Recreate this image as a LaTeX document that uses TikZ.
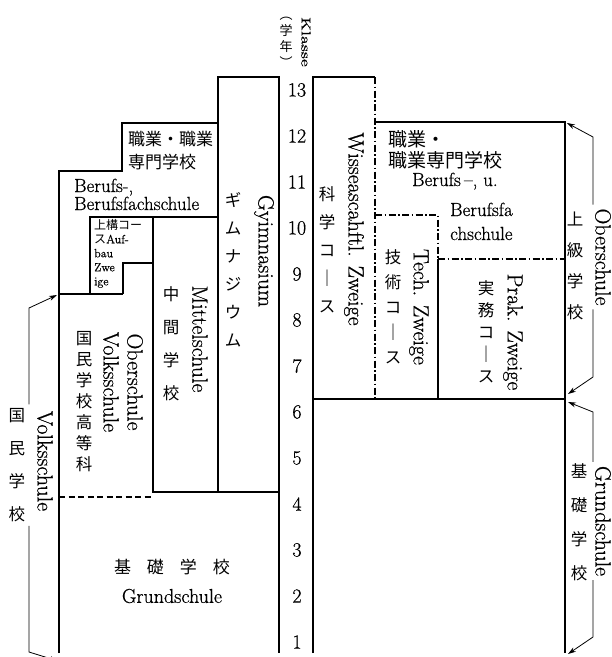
\documentclass[tikz,border=0pt]{standalone}
\usepackage{fontspec}
\usepackage{graphicx}
\setmainfont{Latin Modern Roman}[FakeBold=0.6]
\newfontfamily\cjk{Noto Sans CJK JP}
\usetikzlibrary{arrows.meta}
\tikzset{
 wall/.style={line width=1.5pt},
 dashdot/.style={line width=1.2pt, dash pattern=on 7pt off 2.5pt on 1.5pt off 2.5pt},
 dashline/.style={line width=1.2pt, dash pattern=on 6pt off 3.5pt},
 brace/.style={line width=0.8pt},
 arr/.style={brace, -{Stealth[length=8pt,width=5pt]}},
 lat/.style={inner sep=0pt, font=\fontsize{19}{21}\selectfont},
 rot/.style={inner sep=0pt, outer sep=4pt, rotate=-90, font=\fontsize{22}{24}\selectfont},
 jv/.style={inner sep=0pt, outer sep=4pt, align=center, font=\cjk\fontsize{16.5}{#1}\selectfont},
 jh/.style={inner sep=0pt, font=\cjk\fontsize{17}{20}\selectfont},
 jhb/.style={inner sep=0pt, font=\cjk\fontsize{19}{22}\selectfont},
 num/.style={inner sep=0pt, font=\fontsize{20}{20}\selectfont},
}
\begin{document}
\begin{tikzpicture}[x=1pt,y=-1pt]
\fill[white] (0,0) rectangle (612,657);
\useasboundingbox (0,0) rectangle (612,657);

% ---------- left block outlines ----------
\draw[wall] (59,653) -- (59,171) -- (122,171) -- (122,123) -- (218,123);
\draw[wall] (218,492) -- (218,77) -- (279,77) -- (279,653);
\draw[wall] (59,294) -- (123,294);
\draw[wall] (90,294) -- (90,217) -- (218,217);
\draw[wall] (123,294) -- (123,263) -- (153,263);
\draw[wall] (153,217) -- (153,492) -- (279,492);
\draw[dashline] (59,497) -- (151,497);

% ---------- right block outlines ----------
\draw[wall] (313,653) -- (313,77) -- (375,77);
\draw[dashdot] (375,77) -- (375,399);
\draw[wall] (375,122) -- (565,122) -- (565,653);
\draw[dashdot] (375,215) -- (438,215) -- (438,259);
\draw[wall] (438,259) -- (438,399);
\draw[dashdot] (438,259) -- (565,259);
\draw[wall] (313,399) -- (565,399);

% ---------- left texts ----------
\node[jh, anchor=west] (lt1) at (128,139) {職業・職業};
\node[jh, anchor=west] (lt2) at (128,162) {専門学校};
\node[lat, anchor=base west] (lb1) at (74,192) {Berufs-,};
\node[lat, anchor=base west] (lb2) at (74,210) {Berufsfachschule};
\node[inner sep=0pt, anchor=north west, align=left, font=\fontsize{12}{14}\selectfont] (auf) at (94,219) {{\cjk 上構コー}\\{\cjk ス}Auf-\\bau\\Zwe\\ige};
\node[jv=21] (vkj) at (84,402) {国\\民\\学\\校\\高\\等\\科};
\node[rot] (vks) at (111,382) {Volksschule};
\node[rot] (obs) at (135,382) {Oberschule};
\node[jv=33] (mij) at (171,344) {中\\間\\学\\校};
\node[rot] (mit) at (200,339) {Mittelschule};
\node[jv=28] (gyj) at (233,270) {ギ\\ム\\ナ\\ジ\\ウ\\ム};
\node[rot] (gym) at (264,251) {Gyimnasium};
\node[jh] (grj) at (172,567) {基\hspace{16pt}礎\hspace{16pt}学\hspace{16pt}校};
\node[lat, font=\fontsize{20}{22}\selectfont] (grs) at (172,596) {Grundschule};

% ---------- grade column ----------
\node[inner sep=0pt, rotate=-90] (klasse) at (306,42) {\scalebox{1.4}[1]{\fontsize{13}{13}\selectfont Klasse}};
\node[inner sep=0pt, align=center, font=\cjk\fontsize{13}{16}\selectfont] (gakunen) at (286,42) {︵\\学\\年\\︶};
\foreach \n in {1,...,13} {\node[num] (g\n) at (297,{642-46*(\n-1)}) {\n};}

% ---------- right texts ----------
\node[jv=28] (wij) at (327,250) {科\\学\\コ\\｜\\ス};
\node[rot] (wis) at (354,229) {Wisseascahftl. Zweige};
\node[jhb, anchor=west] (rt1) at (388,139) {職業・};
\node[jhb, anchor=west] (rt2) at (388,160) {職業専門学校};
\node[lat, anchor=base west] (rb1) at (412,186) {Berufs\,–, u.};
\node[lat, anchor=base west] (rb2) at (450,216) {Berufsfa};
\node[lat, anchor=base west] (rb3) at (450,240) {chschule};
\node[jv=25] (tej) at (393,307) {技\\術\\コ\\｜\\ス};
\node[rot] (tec) at (419,307) {Tech. Zweige};
\node[jv=22] (prj) at (486,332) {実\\務\\コ\\｜\\ス};
\node[rot] (pra) at (513,332) {Prak. Zweige};

% ---------- bracket labels ----------
\node[jv=31] (obj) at (575,266) {上\\級\\学\\校};
\node[rot] (obr) at (603,257) {Oberschule};
\node[jv=34] (grj2) at (579,522) {基\\礎\\学\\校};
\node[rot] (grr) at (603,521) {Grundschule};
\node[jv=33] (lbj) at (17,465) {国\\民\\学\\校};
\node[rot] (lbv) at (45,461) {Volksschule};

% ---------- bracket connectors ----------
\coordinate (lbBend) at (29,308);
\coordinate (lbTip) at (57,295);
\coordinate (lbBend2) at (29,652);
\coordinate (lbTip2) at (58,661);
\draw[arr] (lbBend |- lbj.north) -- (lbBend) -- (lbTip);
\draw[arr] (lbBend2 |- lbj.south) -- (lbBend2) -- (lbTip2);

\coordinate (ruBend) at (593,137);
\coordinate (ruTip) at (567,123);
\coordinate (ruBend2) at (593,377);
\coordinate (ruTip2) at (568,394);
\draw[arr] (ruBend |- obr.west) -- (ruBend) -- (ruTip);
\draw[arr] (ruBend2 |- obr.east) -- (ruBend2) -- (ruTip2);

\coordinate (rlBend) at (593,412);
\coordinate (rlTip) at (568,402);
\coordinate (rlBend2) at (593,637);
\coordinate (rlTip2) at (568,654);
\draw[arr] (rlBend |- grr.west) -- (rlBend) -- (rlTip);
\draw[arr] (rlBend2 |- grr.east) -- (rlBend2) -- (rlTip2);
\end{tikzpicture}
\end{document}
